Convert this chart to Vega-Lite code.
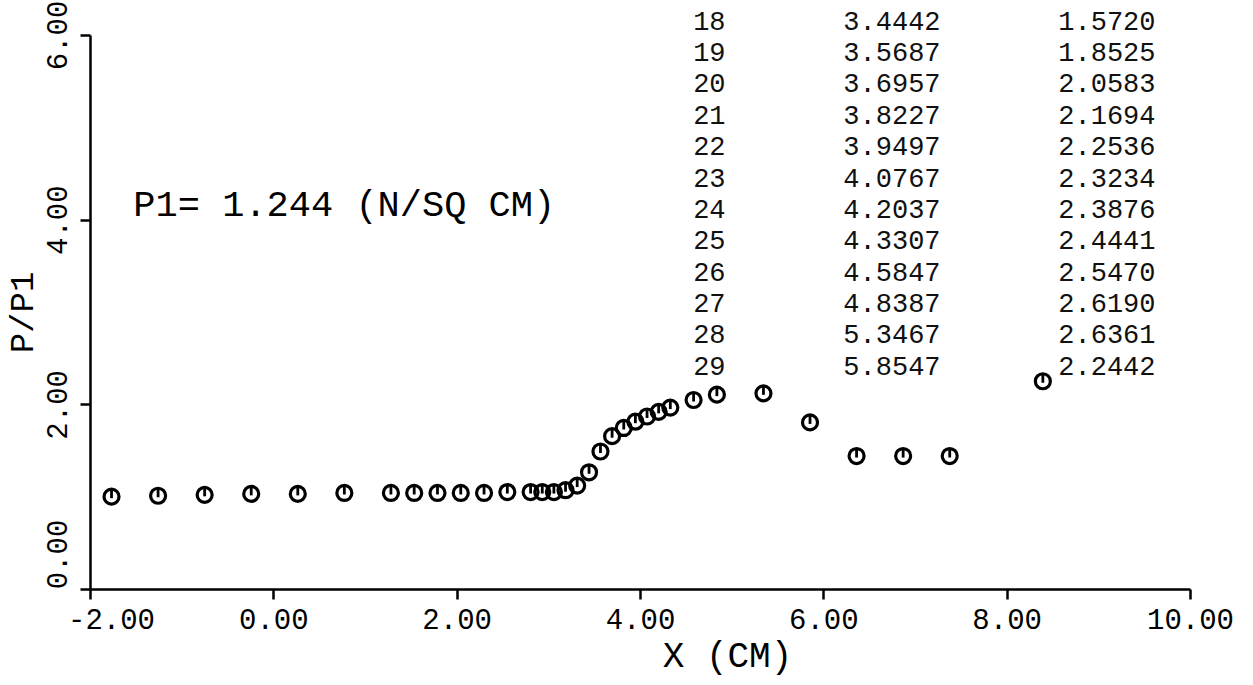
{
  "$schema": "https://vega.github.io/schema/vega-lite/v6.json",
  "width": 1100,
  "height": 554,
  "autosize": {"type": "none"},
  "padding": {"left": 90, "top": 35, "right": 63, "bottom": 96},
  "background": "white",
  "config": {
    "view": {"stroke": null},
    "font": "Liberation Mono",
    "axis": {
      "grid": false,
      "domainColor": "black",
      "domainWidth": 2.5,
      "tickColor": "black",
      "tickWidth": 2.5,
      "tickSize": 10,
      "labelColor": "black",
      "labelFont": "Liberation Mono",
      "labelFontSize": 29,
      "labelFlush": false,
      "labelOverlap": false,
      "titleColor": "black",
      "titleFont": "Liberation Mono",
      "titleFontSize": 36,
      "titleFontWeight": "normal"
    }
  },
  "datasets": {
    "points": [
      {"x": -1.7653, "y": 1.00},
      {"x": -1.2573, "y": 1.01},
      {"x": -0.7493, "y": 1.02},
      {"x": -0.2413, "y": 1.03},
      {"x": 0.2667, "y": 1.03},
      {"x": 0.7747, "y": 1.04},
      {"x": 1.2827, "y": 1.04},
      {"x": 1.5367, "y": 1.04},
      {"x": 1.7907, "y": 1.04},
      {"x": 2.0447, "y": 1.04},
      {"x": 2.2987, "y": 1.04},
      {"x": 2.5527, "y": 1.05},
      {"x": 2.8067, "y": 1.05},
      {"x": 2.9337, "y": 1.05},
      {"x": 3.0607, "y": 1.05},
      {"x": 3.1877, "y": 1.07},
      {"x": 3.3147, "y": 1.12},
      {"x": 3.4442, "y": 1.264},
      {"x": 3.5687, "y": 1.489},
      {"x": 3.6957, "y": 1.655},
      {"x": 3.8227, "y": 1.744},
      {"x": 3.9497, "y": 1.812},
      {"x": 4.0767, "y": 1.868},
      {"x": 4.2037, "y": 1.919},
      {"x": 4.3307, "y": 1.965},
      {"x": 4.5847, "y": 2.047},
      {"x": 4.8387, "y": 2.105},
      {"x": 5.3467, "y": 2.119},
      {"x": 5.8547, "y": 1.804},
      {"x": 6.3627, "y": 1.44},
      {"x": 6.8707, "y": 1.44},
      {"x": 7.3787, "y": 1.44},
      {"x": 8.3947, "y": 2.25}
    ],
    "table": [
      {"n": 18, "xv": "3.4442", "pv": "1.5720"},
      {"n": 19, "xv": "3.5687", "pv": "1.8525"},
      {"n": 20, "xv": "3.6957", "pv": "2.0583"},
      {"n": 21, "xv": "3.8227", "pv": "2.1694"},
      {"n": 22, "xv": "3.9497", "pv": "2.2536"},
      {"n": 23, "xv": "4.0767", "pv": "2.3234"},
      {"n": 24, "xv": "4.2037", "pv": "2.3876"},
      {"n": 25, "xv": "4.3307", "pv": "2.4441"},
      {"n": 26, "xv": "4.5847", "pv": "2.5470"},
      {"n": 27, "xv": "4.8387", "pv": "2.6190"},
      {"n": 28, "xv": "5.3467", "pv": "2.6361"},
      {"n": 29, "xv": "5.8547", "pv": "2.2442"}
    ],
    "note": [{"label": "P1= 1.244 (N/SQ CM)"}]
  },
  "layer": [
    {
      "layer": [
        {
          "data": {"name": "points"},
          "mark": {"type": "point", "shape": "circle", "filled": false, "stroke": "black", "strokeWidth": 3.2, "size": 225, "opacity": 1},
          "encoding": {
            "x": {"field": "x", "type": "quantitative", "title": "X (CM)",
              "scale": {"domain": [-2, 10], "nice": false, "zero": false},
              "axis": {"values": [-2, 0, 2, 4, 6, 8, 10],
                "labelExpr": "datum.value < 0 ? '-' + format(-datum.value, '.2f') : format(datum.value, '.2f')",
                "labelOffset": {"condition": {"test": "datum.value == -2", "value": 21}, "value": 0},
                "labelPadding": 6, "titlePadding": 4, "titleX": 637, "titleAlign": "center"}},
            "y": {"field": "y", "type": "quantitative", "title": "P/P1",
              "scale": {"domain": [0, 6], "nice": false, "zero": false},
              "axis": {"values": [0, 2, 4, 6], "format": ".2f", "labelAngle": -90, "labelAlign": "center", "labelBaseline": "bottom",
                "labelOffset": {"condition": {"test": "datum.value == 0", "value": -35}, "value": 0},
                "labelPadding": 8, "titlePadding": 4, "titleFontSize": 34}}
          }
        },
        {
          "data": {"name": "points"},
          "mark": {"type": "point", "shape": "M0,-1L0,0.2", "filled": false, "stroke": "black", "strokeWidth": 2.8, "size": 225, "opacity": 1},
          "encoding": {
            "x": {"field": "x", "type": "quantitative", "title": "X (CM)"},
            "y": {"field": "y", "type": "quantitative", "title": "P/P1"}
          }
        },
        {
          "data": {"name": "note"},
          "mark": {"type": "text", "align": "left", "baseline": "middle", "font": "Liberation Mono", "fontSize": 37, "color": "black"},
          "encoding": {
            "x": {"datum": -1.527, "type": "quantitative", "title": "X (CM)"},
            "y": {"datum": 4.16, "type": "quantitative", "title": "P/P1"},
            "text": {"field": "label", "type": "nominal"}
          }
        }
      ]
    },
    {
      "data": {"name": "table"},
      "encoding": {
        "y": {"field": "n", "type": "quantitative", "axis": null,
          "scale": {"domain": [18.424, 36.09], "reverse": true, "nice": false, "zero": false}}
      },
      "layer": [
        {
          "mark": {"type": "text", "align": "left", "baseline": "middle", "font": "Liberation Mono", "fontSize": 27, "color": "#111"},
          "encoding": {
            "x": {"datum": 4.58, "type": "quantitative", "title": "X (CM)"},
            "text": {"field": "n", "type": "quantitative", "format": "d"}
          }
        },
        {
          "mark": {"type": "text", "align": "left", "baseline": "middle", "font": "Liberation Mono", "fontSize": 27, "color": "#111"},
          "encoding": {
            "x": {"datum": 6.218, "type": "quantitative", "title": "X (CM)"},
            "text": {"field": "xv", "type": "nominal"}
          }
        },
        {
          "mark": {"type": "text", "align": "left", "baseline": "middle", "font": "Liberation Mono", "fontSize": 27, "color": "#111"},
          "encoding": {
            "x": {"datum": 8.563, "type": "quantitative", "title": "X (CM)"},
            "text": {"field": "pv", "type": "nominal"}
          }
        }
      ]
    }
  ],
  "resolve": {"scale": {"y": "independent"}, "axis": {"y": "independent"}}
}
